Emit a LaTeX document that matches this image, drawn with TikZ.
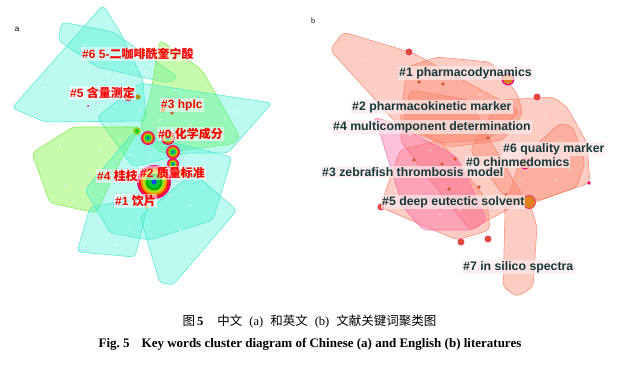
\documentclass[tikz,border=0pt]{standalone}
\usepackage{fontspec}
\setmainfont{Liberation Serif}
\newfontfamily\lsans{Liberation Sans}
\newfontfamily\cjk{Noto Sans CJK SC}
\begin{document}
\begin{tikzpicture}[x=1pt,y=-1pt,
  cyanpoly/.style={fill={rgb,255:red,70;green,240;blue,210},fill opacity=0.36,draw={rgb,255:red,60;green,230;blue,200},draw opacity=0.8,line width=0.6pt,rounded corners=4pt},
  greenpoly/.style={fill={rgb,255:red,130;green,245;blue,70},fill opacity=0.45,draw={rgb,255:red,110;green,235;blue,60},draw opacity=0.8,line width=0.6pt,rounded corners=4pt},
  salpoly/.style={fill={rgb,255:red,250;green,130;blue,105},fill opacity=0.4,draw={rgb,255:red,245;green,125;blue,100},draw opacity=0.8,line width=0.6pt,rounded corners=5pt},
  pinkpoly/.style={fill={rgb,255:red,250;green,100;blue,165},fill opacity=0.4,draw={rgb,255:red,245;green,100;blue,160},draw opacity=0.8,line width=0.6pt,rounded corners=5pt},
  alab/.style={fill=white,fill opacity=0.55,text opacity=1,text=red,inner sep=1pt,anchor=west,font=\lsans\bfseries\fontsize{12}{13}\selectfont},
  blab/.style={fill={rgb,255:red,255;green,235;blue,235},fill opacity=0.7,text opacity=1,text={rgb,255:red,20;green,55;blue,55},inner sep=1pt,anchor=west,font=\lsans\bfseries\fontsize{12.3}{13}\selectfont},
  wdot/.style={fill=white,fill opacity=0.8,draw=none},
]
\useasboundingbox (0,0) rectangle (620,366);

% ---------- panel a ----------
\node[font=\lsans\fontsize{8}{9}\selectfont,anchor=center] (la) at (17,29) {a};
\draw[cyanpoly] (103,5) -- (120,32) -- (143,80) -- (146,121) -- (45,122) -- (12,108) -- cycle;
\draw[cyanpoly] (62,22) -- (113,32) -- (178,77) -- (168,83) -- (97,67) -- (58,40) -- cycle;
\draw[greenpoly] (160,40) -- (202,70) -- (240,137) -- (233,144) -- (160,153) -- (140,127) -- (150,97) -- cycle;
\draw[cyanpoly] (97,117) -- (140,83) -- (272,103) -- (228,153) -- (187,153) -- (133,167) -- cycle;
\draw[greenpoly] (32,153) -- (73,127) -- (140,127) -- (117,167) -- (97,213) -- (50,203) -- cycle;
\draw[cyanpoly] (85,190) -- (133,133) -- (232,157) -- (213,220) -- (150,240) -- (110,233) -- cycle;
\draw[cyanpoly] (77,252) -- (90,207) -- (150,197) -- (135,257) -- cycle;
\draw[cyanpoly] (140,217) -- (193,173) -- (237,210) -- (173,285) -- (160,283) -- cycle;

\foreach \p in {(45,88),(70,110),(56,80),(116,100),(140,110),(175,90),(190,125),(210,140),(225,118),(60,145),(78,160),(100,150),(120,140),(130,155),(150,158),(195,160),(205,180),(190,205),(170,195),(120,200),(100,220),(115,245),(130,230),(180,230),(200,250),(175,265),(90,175),(66,185),(235,112),(160,120),(108,72),(150,65),(40,70),(85,45)}
  \fill[wdot] \p circle (1pt);

% circles a
\fill[magenta!80!red] (154,182) circle (17);
\fill[red!75!orange] (154,182) circle (15);
\fill[orange!80!yellow] (154,182) circle (13);
\fill[yellow!70!green] (154,182) circle (11);
\fill[green!70!black] (154,182) circle (8.5);
\fill[green!55!teal] (154,182) circle (6);
\fill[blue!70!cyan] (154,182) circle (2.5);
\foreach \x/\y/\r in {148/138/7,168/138/7,173/152/7,173/164/6}{
  \fill[magenta!80!red] (\x,\y) circle (\r);
  \fill[orange!70!red] (\x,\y) circle (\r-1.2);
  \fill[yellow!60!green] (\x,\y) circle (\r-2.5);
  \fill[green!60!teal] (\x,\y) circle (\r-3.8);
  \fill[blue!60!cyan] (\x,\y) circle (1.3);
}
\fill[orange!60!brown] (183,173) circle (4);
\fill[yellow!60!green] (137,131) circle (4);
\fill[green!60!teal] (137,131) circle (2);
\fill[magenta!70!red] (128,98) circle (3.3);
\fill[olive!70!orange] (128,98) circle (2.3);
\fill[olive!70!orange] (138,97) circle (2.5);
\fill[brown!70!orange] (163,110) circle (2.5);
\fill[brown!80!red] (172,113) circle (1.8);
\fill[olive!60!yellow] (147,207) circle (1.8);
\fill[magenta] (88,106) circle (1);

\node[alab] (a6) at (81,54) {\#6 5-{\cjk 二咖啡酰奎宁酸}};
\node[alab] (a5) at (69,93) {\#5 {\cjk 含量测定}};
\node[alab] (a3) at (160,105) {\#3 hplc};
\node[alab] (a0) at (157,134) {\#0 {\cjk 化学成分}};
\node[alab] (a4) at (96,176) {\#4 {\cjk 桂枝}};
\node[alab] (a2) at (139,173) {\#2 {\cjk 质量标准}};
\node[alab] (a1) at (114,201) {\#1 {\cjk 饮片}};

% ---------- panel b ----------
\node[font=\fontsize{8}{9}\selectfont,anchor=center] (lb) at (313,21) {b};
\draw[salpoly] (343,32) -- (413,53) -- (513,107) -- (520,112) -- (487,140) -- (440,143) -- (400,127) -- (330,50) -- cycle;
\draw[salpoly] (437,57) -- (490,62) -- (517,93) -- (523,113) -- (503,140) -- (450,147) -- (400,123) -- (407,67) -- cycle;
\draw[salpoly] (500,100) -- (553,97) -- (567,107) -- (587,143) -- (590,183) -- (540,200) -- (507,200) -- (470,150) -- cycle;
\draw[salpoly] (560,123) -- (573,127) -- (585,163) -- (577,187) -- (533,203) -- (507,200) -- (520,160) -- cycle;
\draw[salpoly] (503,197) -- (530,203) -- (537,227) -- (533,287) -- (517,297) -- (503,287) -- (505,213) -- cycle;
\draw[salpoly] (380,207) -- (400,150) -- (440,140) -- (487,200) -- (490,230) -- (457,240) -- cycle;
\draw[salpoly] (410,90) -- (470,100) -- (490,140) -- (525,200) -- (470,230) -- (430,180) -- (400,140) -- cycle;
\draw[pinkpoly] (373,117) -- (393,123) -- (457,157) -- (487,220) -- (473,230) -- (423,230) -- (403,207) -- (380,133) -- cycle;

\foreach \p in {(366,60),(376,90),(395,105),(420,60),(470,72),(480,95),(512,92),(545,115),(560,140),(570,170),(555,180),(520,180),(495,175),(470,170),(430,150),(410,175),(425,200),(440,215),(460,210),(500,220),(520,240),(520,270),(515,285),(395,190),(410,135)}
  \fill[wdot] \p circle (0.8pt);

\foreach \x/\y/\r in {409/52/3.5,537/97/3.5,381/207/3.5,461/242/3.5,488/239/3.5}{
  \fill[magenta!60!orange] (\x,\y) circle (\r);
  \fill[brown!60!red] (\x,\y) circle (\r-1);
}
\fill[magenta] (508,79) circle (6.5);
\fill[brown!50!orange] (508,79) circle (5.3);
\fill[magenta] (525,164) circle (5.5);
\fill[brown!50!orange] (525,164) circle (4.3);
\fill[magenta!60!orange] (529,202) circle (7);
\fill[brown!50!orange] (529,202) circle (6);
\fill[magenta!80!red] (589,183) circle (1.8);
\foreach \p in {(419,82),(443,84),(469,122),(488,138),(506,195),(414,160),(442,164),(455,159),(449,189),(479,187),(453,127)}
  \fill[brown!70!red] \p circle (1.8);

\node[blab] (b1) at (398,73) {\#1 pharmacodynamics};
\node[blab] (b2) at (351,107) {\#2 pharmacokinetic marker};
\node[blab] (b4) at (332,127) {\#4 multicomponent determination};
\node[blab] (b6) at (502,149) {\#6 quality marker};
\node[blab] (b0) at (465,162) {\#0 chinmedomics};
\node[blab] (b3) at (321,172) {\#3 zebrafish thrombosis model};
\node[blab] (b5) at (381,202) {\#5 deep eutectic solvent};
\node[blab] (b7) at (462,267) {\#7 in silico spectra};

% ---------- caption ----------
\node[font=\fontsize{12.5}{14}\selectfont] (cap1) at (309.5,322) {{\cjk 图}\,\textbf{5}\hspace{14pt}{\cjk 中文}\hspace{7pt}(a)\hspace{7pt}{\cjk 和英文}\hspace{7pt}(b)\hspace{7pt}{\cjk 文献关键词聚类图}};
\node[font=\bfseries\fontsize{13}{15}\selectfont] (cap2) at (310,344) {Fig.\ 5\hspace{12pt}Key words cluster diagram of Chinese (a) and English (b) literatures};
\end{tikzpicture}
\end{document}
